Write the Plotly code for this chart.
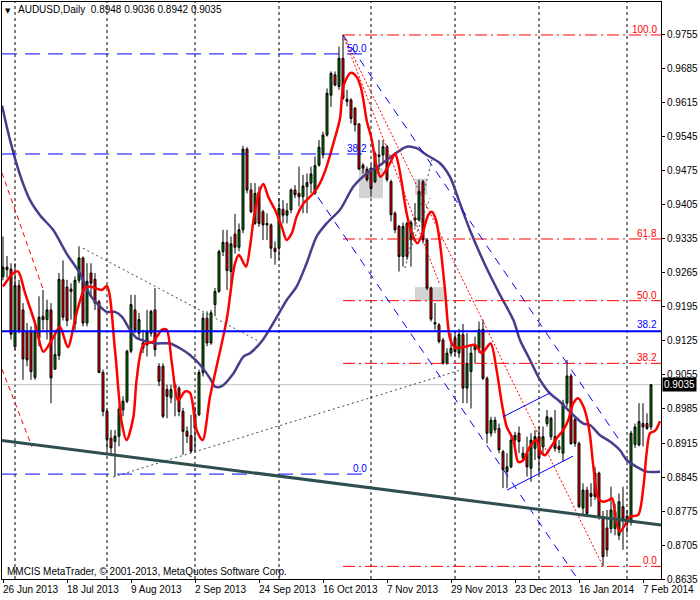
import plotly.graph_objects as go

FONT = "Liberation Sans, Arial, sans-serif"

# ---------------- data ----------------
date_labels = ["26 Jun 2013", "18 Jul 2013", "9 Aug 2013", "2 Sep 2013", "24 Sep 2013",
               "16 Oct 2013", "7 Nov 2013", "29 Nov 2013", "23 Dec 2013", "16 Jan 2014", "7 Feb 2014"]
date_label_bars = [0, 16, 32, 48, 64, 80, 96, 112, 128, 144, 160]
month_start_bars = [3, 26, 48, 69, 92, 113, 134, 156]

price_ticks = [0.8635, 0.8705, 0.8775, 0.8845, 0.8915, 0.8985, 0.9055, 0.9125, 0.9195,
               0.9265, 0.9335, 0.9405, 0.9475, 0.9545, 0.9615, 0.9685, 0.9755]
price_tick_text = ["0.8635", "0.8705", "0.8775", "0.8845", "0.8915", "0.8985", "0.9055", "0.9125",
                   "0.9195", "0.9265", "0.9335", "0.9405", "0.9475", "0.9545", "0.9615", "0.9685", "0.9755"]

opens = [0.9258, 0.9277, 0.9273, 0.9113, 0.9239, 0.9189, 0.9145, 0.9145, 0.9050, 0.9131,
         0.9176, 0.9169, 0.9189, 0.9067, 0.9095, 0.9251, 0.9236, 0.9232, 0.9160, 0.9250,
         0.9296, 0.9162, 0.9265, 0.9252, 0.9206, 0.9060, 0.8980, 0.8925, 0.8918, 0.8929,
         0.8983, 0.9001, 0.9104, 0.9189, 0.9141, 0.9121, 0.9117, 0.9141, 0.9189, 0.9073,
         0.9073, 0.9025, 0.9008, 0.9035, 0.9028, 0.8980, 0.8939, 0.8930, 0.8946, 0.8973,
         0.9060, 0.9172, 0.9121, 0.9200, 0.9227, 0.9309, 0.9328, 0.9268, 0.9345, 0.9318,
         0.9354, 0.9520, 0.9436, 0.9367, 0.9432, 0.9391, 0.9367, 0.9364, 0.9316, 0.9316,
         0.9396, 0.9384, 0.9395, 0.9436, 0.9429, 0.9422, 0.9443, 0.9450, 0.9429, 0.9487,
         0.9508, 0.9549, 0.9631, 0.9673, 0.9649, 0.9707, 0.9623, 0.9621, 0.9604, 0.9572,
         0.9487, 0.9478, 0.9481, 0.9453, 0.9508, 0.9508, 0.9525, 0.9453, 0.9388, 0.9361,
         0.9299, 0.9367, 0.9333, 0.9374, 0.9374, 0.9453, 0.9333, 0.9234, 0.9163, 0.9158,
         0.9127, 0.9079, 0.9100, 0.9131, 0.9100, 0.9138, 0.9028, 0.9062, 0.9107, 0.9110,
         0.9149, 0.9048, 0.8935, 0.8942, 0.8945, 0.8897, 0.8856, 0.8866, 0.8921, 0.8935,
         0.8884, 0.8894, 0.8863, 0.8904, 0.8928, 0.8907, 0.8955, 0.8928, 0.8928, 0.8908,
         0.8894, 0.8997, 0.9053, 0.8963, 0.8914, 0.8781, 0.8818, 0.8811, 0.8853, 0.8853,
         0.8763, 0.8740, 0.8739, 0.8739, 0.8725, 0.8784, 0.8750, 0.8752, 0.8912, 0.8911,
         0.8955, 0.8955, 0.8948]

highs = [0.9340, 0.9300, 0.9285, 0.9285, 0.9251, 0.9203, 0.9162, 0.9155, 0.9162, 0.9217,
         0.9230, 0.9210, 0.9203, 0.9148, 0.9265, 0.9291, 0.9251, 0.9244, 0.9258, 0.9320,
         0.9299, 0.9285, 0.9285, 0.9265, 0.9210, 0.9066, 0.8984, 0.8942, 0.8942, 0.8990,
         0.9011, 0.9107, 0.9220, 0.9220, 0.9183, 0.9148, 0.9189, 0.9189, 0.9234, 0.9079,
         0.9079, 0.9035, 0.9035, 0.9038, 0.9032, 0.8987, 0.8949, 0.8973, 0.8990, 0.9066,
         0.9183, 0.9186, 0.9189, 0.9234, 0.9313, 0.9354, 0.9354, 0.9340, 0.9387, 0.9367,
         0.9527, 0.9524, 0.9450, 0.9450, 0.9443, 0.9395, 0.9388, 0.9367, 0.9330, 0.9419,
         0.9415, 0.9409, 0.9439, 0.9446, 0.9484, 0.9467, 0.9470, 0.9484, 0.9505, 0.9539,
         0.9556, 0.9645, 0.9680, 0.9680, 0.9731, 0.9755, 0.9642, 0.9625, 0.9607, 0.9573,
         0.9491, 0.9484, 0.9488, 0.9515, 0.9539, 0.9539, 0.9529, 0.9457, 0.9392, 0.9364,
         0.9369, 0.9371, 0.9374, 0.9409, 0.9457, 0.9457, 0.9337, 0.9237, 0.9203, 0.9162,
         0.9131, 0.9110, 0.9141, 0.9145, 0.9150, 0.9160, 0.9141, 0.9117, 0.9134, 0.9165,
         0.9168, 0.9052, 0.8969, 0.8969, 0.8955, 0.8901, 0.8894, 0.8928, 0.8938, 0.8949,
         0.8907, 0.8928, 0.8935, 0.8942, 0.8949, 0.8949, 0.8983, 0.8969, 0.8983, 0.8921,
         0.9004, 0.9086, 0.9058, 0.8969, 0.8918, 0.8832, 0.8825, 0.8832, 0.8866, 0.8856,
         0.8775, 0.8777, 0.8825, 0.8790, 0.8811, 0.8825, 0.8777, 0.8940, 0.8955, 0.8997,
         0.8997, 0.8976, 0.9036]

lows = [0.9250, 0.9255, 0.9128, 0.9107, 0.9141, 0.9045, 0.9073, 0.9045, 0.9045, 0.9114,
        0.9148, 0.9128, 0.8997, 0.9066, 0.9086, 0.9167, 0.9155, 0.9169, 0.9148, 0.9244,
        0.9155, 0.9155, 0.9217, 0.9189, 0.9059, 0.8970, 0.8901, 0.8888, 0.8846, 0.8908,
        0.8970, 0.8997, 0.9100, 0.9141, 0.9128, 0.9100, 0.9093, 0.9134, 0.9093, 0.9032,
        0.8966, 0.8966, 0.8997, 0.8970, 0.8970, 0.8891, 0.8915, 0.8894, 0.8898, 0.8970,
        0.9052, 0.9114, 0.9117, 0.9176, 0.9224, 0.9300, 0.9230, 0.9240, 0.9305, 0.9310,
        0.9347, 0.9429, 0.9388, 0.9364, 0.9360, 0.9333, 0.9333, 0.9295, 0.9282, 0.9292,
        0.9367, 0.9367, 0.9388, 0.9419, 0.9402, 0.9388, 0.9388, 0.9429, 0.9426, 0.9484,
        0.9501, 0.9546, 0.9607, 0.9649, 0.9642, 0.9621, 0.9608, 0.9573, 0.9556, 0.9477,
        0.9470, 0.9453, 0.9422, 0.9450, 0.9477, 0.9491, 0.9453, 0.9371, 0.9347, 0.9268,
        0.9278, 0.9292, 0.9278, 0.9361, 0.9371, 0.9326, 0.9230, 0.9165, 0.9148, 0.9120,
        0.9076, 0.9076, 0.9093, 0.9095, 0.9090, 0.8997, 0.8997, 0.8986, 0.9079, 0.9100,
        0.9045, 0.8914, 0.8928, 0.8935, 0.8894, 0.8822, 0.8822, 0.8863, 0.8907, 0.8894,
        0.8880, 0.8846, 0.8835, 0.8880, 0.8853, 0.8894, 0.8949, 0.8921, 0.8897, 0.8894,
        0.8877, 0.8990, 0.8911, 0.8907, 0.8781, 0.8767, 0.8767, 0.8784, 0.8798, 0.8757,
        0.8661, 0.8681, 0.8729, 0.8725, 0.8715, 0.8695, 0.8729, 0.8745, 0.8905, 0.8908,
        0.8908, 0.8942, 0.8942]

closes = [0.9277, 0.9272, 0.9139, 0.9239, 0.9148, 0.9088, 0.9086, 0.9062, 0.9145, 0.9174,
          0.9169, 0.9189, 0.9049, 0.9097, 0.9252, 0.9174, 0.9167, 0.9227, 0.9250, 0.9296,
          0.9162, 0.9248, 0.9244, 0.9203, 0.9060, 0.8980, 0.8922, 0.8905, 0.8929, 0.8985,
          0.9001, 0.9104, 0.9200, 0.9148, 0.9169, 0.9110, 0.9145, 0.9186, 0.9107, 0.9042,
          0.8970, 0.9011, 0.9025, 0.9028, 0.8980, 0.8939, 0.8929, 0.8898, 0.8973, 0.9060,
          0.9172, 0.9121, 0.9183, 0.9227, 0.9309, 0.9328, 0.9270, 0.9325, 0.9318, 0.9354,
          0.9520, 0.9436, 0.9391, 0.9429, 0.9367, 0.9364, 0.9364, 0.9316, 0.9309, 0.9398,
          0.9384, 0.9393, 0.9436, 0.9426, 0.9422, 0.9444, 0.9451, 0.9469, 0.9486, 0.9524,
          0.9549, 0.9635, 0.9676, 0.9652, 0.9707, 0.9625, 0.9618, 0.9583, 0.9570, 0.9479,
          0.9481, 0.9457, 0.9439, 0.9511, 0.9505, 0.9525, 0.9457, 0.9385, 0.9354, 0.9299,
          0.9361, 0.9299, 0.9369, 0.9378, 0.9433, 0.9333, 0.9234, 0.9170, 0.9160, 0.9124,
          0.9079, 0.9100, 0.9110, 0.9103, 0.9138, 0.9028, 0.9079, 0.9100, 0.9117, 0.9148,
          0.9048, 0.8935, 0.8962, 0.8962, 0.8901, 0.8860, 0.8866, 0.8921, 0.8931, 0.8918,
          0.8894, 0.8866, 0.8921, 0.8928, 0.8884, 0.8928, 0.8969, 0.8966, 0.8904, 0.8902,
          0.8997, 0.9053, 0.8914, 0.8914, 0.8784, 0.8818, 0.8770, 0.8805, 0.8805, 0.8763,
          0.8681, 0.8695, 0.8777, 0.8774, 0.8794, 0.8757, 0.8764, 0.8935, 0.8948, 0.8959,
          0.8948, 0.8945, 0.9035]

bars = list(range(len(closes)))

# red indicator line
red_x = [0, 2.6, 3.8, 5.5, 8, 10.1, 12.2, 14.25, 16.2, 18.4,
         20.5, 21.75, 24.7, 26, 28, 29.7, 30.9, 32.6, 33.4, 35.1,
         37.6, 39.7, 40.9, 42.2, 43.8, 45.5, 46.75, 48.4, 49.9, 51.75,
         55.9, 58, 59, 60.75, 61.75, 62.75, 64.25, 65.1, 66.3, 68,
         69.7, 70.9, 72.2, 73.4, 75.1, 77.6, 79.25, 80.9, 82.6, 84.25,
         85.1, 86.9, 88.4, 89.4, 90.1, 90.9, 92.2, 93.4, 94.4, 96.75,
         98, 98.8, 99.7, 100.9, 102.2, 103.6, 104.9, 106.3, 107.2, 108.25,
         109.25, 110.5, 111.75, 113, 115.5, 118, 119.7, 121.9, 123.4, 124.7,
         125.9, 127.6, 128.8, 130.1, 131.75, 133.4, 134.4, 135.5, 136.75, 138.4,
         140.1, 141.3, 142.6, 143.8, 145.1, 145.9, 146.75, 147.6, 148.8, 150.1,
         151.3, 152.3, 153.2, 154.25, 155.25, 156.75, 158.8, 160.1, 160.9, 161.75,
         163, 164.25]
red_y = [0.9237, 0.9265, 0.9268, 0.9224, 0.9162, 0.9103, 0.9127, 0.9154, 0.9112, 0.9183,
         0.9234, 0.9237, 0.9230, 0.9238, 0.9106, 0.8956, 0.8921, 0.8969, 0.9045, 0.9117,
         0.9124, 0.9148, 0.9148, 0.9080, 0.9003, 0.9021, 0.9018, 0.8942, 0.8921, 0.9010,
         0.9168, 0.9285, 0.9302, 0.9278, 0.9319, 0.9381, 0.9436, 0.9448, 0.9422, 0.9395,
         0.9360, 0.9333, 0.9347, 0.9381, 0.9408, 0.9429, 0.9450, 0.9484, 0.9532, 0.9583,
         0.9650, 0.9677, 0.9669, 0.9649, 0.9621, 0.9580, 0.9539, 0.9484, 0.9463, 0.9491,
         0.9511, 0.9491, 0.9450, 0.9388, 0.9347, 0.9326, 0.9347, 0.9384, 0.9391, 0.9374,
         0.9326, 0.9230, 0.9130, 0.9112, 0.9113, 0.9117, 0.9100, 0.9120, 0.9065, 0.8997,
         0.8949, 0.8921, 0.8876, 0.8880, 0.8908, 0.8921, 0.8897, 0.8890, 0.8904, 0.8925,
         0.8942, 0.8962, 0.8997, 0.9007, 0.8990, 0.8969, 0.8931, 0.8866, 0.8801, 0.8794,
         0.8797, 0.8801, 0.8756, 0.8732, 0.8743, 0.8763, 0.8767, 0.8825, 0.8894, 0.8935,
         0.8940, 0.8960]

# slow purple line
pur_x = [-0.25, 1.75, 4.25, 6.75, 9.25, 12.6, 15.9, 19.25, 21.75, 24.25,
         25.9, 28, 29.7, 31.75, 33.4, 35.9, 38.4, 41.75, 44.25, 46.75,
         49.25, 51.75, 53, 54.7, 57.6, 60.1, 61.75, 64.75, 68, 70.9,
         73.4, 75.9, 78.4, 80.9, 84.25, 87.6, 90.9, 94.25, 97.6, 100.9,
         103.4, 105.9, 109.25, 111.75, 114.25, 116.75, 120.5, 124.25, 127.6, 129.25,
         131.75, 134.25, 136.75, 139.25, 141.75, 143.4, 145.1, 146.75, 149.25, 151.75,
         154.25, 155.9, 158.4, 160.9, 164.25]
pur_y = [0.9610, 0.9539, 0.9467, 0.9415, 0.9384, 0.9353, 0.9305, 0.9264, 0.9220, 0.9196,
         0.9185, 0.9185, 0.9175, 0.9148, 0.9131, 0.9124, 0.9120, 0.9120, 0.9110, 0.9096,
         0.9076, 0.9048, 0.9031, 0.9032, 0.9058, 0.9093, 0.9100, 0.9125, 0.9168, 0.9209,
         0.9237, 0.9285, 0.9340, 0.9367, 0.9395, 0.9443, 0.9470, 0.9487, 0.9508, 0.9525,
         0.9522, 0.9508, 0.9491, 0.9463, 0.9408, 0.9353, 0.9282, 0.9220, 0.9168, 0.9127,
         0.9086, 0.9045, 0.9017, 0.9000, 0.8979, 0.8966, 0.8955, 0.8952, 0.8931, 0.8918,
         0.8900, 0.8880, 0.8866, 0.8856, 0.8856]

# red Fibonacci retracement (peak bar 85 -> low bar 150)
fib_red_levels = [0.9755, 0.9335, 0.9208, 0.9079, 0.8661]
fib_red_labels = ["100.0", "61.8", "50.0", "38.2", "0.0"]
fib_red_start_bar = 85
# blue dashed Fibonacci levels on the left part
fib_blue_levels = [0.9716, 0.9510, 0.8851]
fib_blue_labels = ["50.0", "38.2", "0.0"]
fib_blue_end_bar = 91.75
# solid blue level
blue_level = 0.9145
blue_level_label = "38.2"
last_price = 0.9035
last_price_text = "0.9035"

X_MIN, X_MAX = -0.25, 164.5
Y_MIN, Y_MAX = 0.8635, 0.98229

# trend objects: (x0, y0, x1, y1, color, width, dash)
trend_objects = [
    (85, 0.9755, 150, 0.8661, "#FF0000", 1, "2px,2px"),          # fibo diagonal
    (85, 0.9755, 109.25, 0.9240, "#FF0000", 1, "2px,2px"),
    (85, 0.9755, 154.75, 0.8913, "#0000FF", 1, "8px,7px"),       # channel upper
    (78.75, 0.9421, 143.5, 0.8637, "#0000FF", 1, "8px,7px"),     # channel lower
    (125, 0.8969, 136.75, 0.9018, "#0000FF", 1, "solid"),        # small channel
    (126, 0.8818, 142.5, 0.8888, "#0000FF", 1, "solid"),
    (20, 0.9316, 64.75, 0.9121, "#2F4F4F", 1, "2px,3px"),
    (27.5, 0.8845, 114.25, 0.9065, "#2F4F4F", 1, "2px,3px"),
    (100.5, 0.9275, 107.25, 0.9498, "#2F4F4F", 1, "2px,3px"),
    (101.75, 0.9312, 106.75, 0.9419, "#2F4F4F", 1, "2px,3px"),
    (-0.25, 0.9471, 10.25, 0.9226, "#FF0000", 1, "5px,4px"),
    (-0.25, 0.9067, 7.25, 0.8907, "#FF0000", 1, "5px,4px"),
    (-0.25, 0.8920, 164.5, 0.8746, "#2F4F4F", 3, "solid"),       # long support
]
# shaded boxes: (x0, y0, x1, y1)
boxes = [(89, 0.9481, 95, 0.9419), (103, 0.9459, 106, 0.9426), (103, 0.9236, 110.75, 0.9207)]

# ---------------- figure ----------------
fig = go.Figure()

fig.add_trace(go.Candlestick(
    x=bars, open=opens, high=highs, low=lows, close=closes,
    increasing=dict(line=dict(color="black", width=1), fillcolor="#008000"),
    decreasing=dict(line=dict(color="black", width=1), fillcolor="#FF0000"),
    whiskerwidth=0, showlegend=False, hoverinfo="skip"))

fig.add_trace(go.Scatter(x=pur_x, y=pur_y, mode="lines",
                         line=dict(color="#483D8B", width=2.5, shape="spline", smoothing=0.8),
                         showlegend=False, hoverinfo="skip"))
fig.add_trace(go.Scatter(x=red_x, y=red_y, mode="lines",
                         line=dict(color="#FF0000", width=2.5, shape="spline", smoothing=0.8),
                         showlegend=False, hoverinfo="skip"))

shapes = []
for b in month_start_bars:
    shapes.append(dict(type="line", xref="x", yref="paper", x0=b, x1=b, y0=0, y1=1,
                       line=dict(color="black", width=1, dash="3px,3px"), layer="below"))
for (x0, y0, x1, y1) in boxes:
    shapes.append(dict(type="rect", xref="x", yref="y", x0=x0, x1=x1, y0=y0, y1=y1,
                       fillcolor="#D3D3D3", line=dict(width=0), layer="below"))
shapes.append(dict(type="line", xref="x", yref="y", x0=X_MIN, x1=X_MAX, y0=last_price, y1=last_price,
                   line=dict(color="#C0C0C0", width=1), layer="below"))
for lv in fib_red_levels:
    shapes.append(dict(type="line", xref="x", yref="y", x0=fib_red_start_bar, x1=X_MAX, y0=lv, y1=lv,
                       line=dict(color="#FF0000", width=1, dash="12px,4px,2px,4px")))
for lv in fib_blue_levels:
    shapes.append(dict(type="line", xref="x", yref="y", x0=X_MIN, x1=fib_blue_end_bar, y0=lv, y1=lv,
                       line=dict(color="#0000FF", width=1, dash="15px,8px")))
shapes.append(dict(type="line", xref="x", yref="y", x0=X_MIN, x1=X_MAX, y0=blue_level, y1=blue_level,
                   line=dict(color="#0000FF", width=2)))
for (x0, y0, x1, y1, c, w, d) in trend_objects:
    shapes.append(dict(type="line", xref="x", yref="y", x0=x0, y0=y0, x1=x1, y1=y1,
                       line=dict(color=c, width=w, dash=d)))

ann = []
for lbl, b in zip(date_labels, date_label_bars):
    ann.append(dict(x=b, y=0, xref="x", yref="paper", text=lbl, showarrow=False,
                    xanchor="left", yanchor="top", xshift=-2, yshift=-3,
                    font=dict(family=FONT, size=10, color="black")))
for lbl, lv in zip(fib_red_labels, fib_red_levels):
    ann.append(dict(x=1, y=lv, xref="paper", yref="y", text=lbl, showarrow=False,
                    xanchor="right", yanchor="bottom", xshift=-2, yshift=-2,
                    font=dict(family=FONT, size=10, color="#FF0000")))
for lbl, lv in zip(fib_blue_labels, fib_blue_levels):
    ann.append(dict(x=fib_blue_end_bar, y=lv, xref="x", yref="y", text=lbl, showarrow=False,
                    xanchor="right", yanchor="bottom", xshift=-1, yshift=-2,
                    font=dict(family=FONT, size=10, color="#0000FF")))
ann.append(dict(x=1, y=blue_level, xref="paper", yref="y", text=blue_level_label, showarrow=False,
                xanchor="right", yanchor="bottom", xshift=-2, yshift=-1,
                font=dict(family=FONT, size=10, color="#0000FF")))
ann.append(dict(x=1, y=last_price, xref="paper", yref="y", text=last_price_text, showarrow=False,
                xanchor="left", yanchor="middle", xshift=1, bgcolor="black", borderpad=1,
                font=dict(family=FONT, size=10, color="white")))
ann.append(dict(x=0, y=1, xref="paper", yref="paper", text="▼", showarrow=False,
                xanchor="left", yanchor="top", xshift=1, yshift=-3,
                font=dict(family="DejaVu Sans", size=7, color="black")))
ann.append(dict(x=0, y=1, xref="paper", yref="paper",
                text="AUDUSD,Daily\u00a0\u00a00.8948 0.9036 0.8942 0.9035", showarrow=False,
                xanchor="left", yanchor="top", xshift=14, yshift=0,
                font=dict(family=FONT, size=10, color="black")))
ann.append(dict(x=0, y=0, xref="paper", yref="paper",
                text="MMCIS MetaTrader, © 2001-2013, MetaQuotes Software Corp.", showarrow=False,
                xanchor="left", yanchor="bottom", xshift=3, yshift=0,
                font=dict(family=FONT, size=10, color="black")))

fig.update_layout(
    width=700, height=600,
    margin=dict(l=2, r=39, t=2, b=21),
    paper_bgcolor="white", plot_bgcolor="white",
    showlegend=False, hovermode=False,
    shapes=shapes, annotations=ann,
    xaxis=dict(range=[X_MIN, X_MAX], showgrid=False, zeroline=False, rangeslider=dict(visible=False),
               tickmode="array", tickvals=date_label_bars, showticklabels=False,
               ticks="outside", ticklen=3, tickcolor="black",
               showline=True, linecolor="black", linewidth=1, mirror=True),
    yaxis=dict(range=[Y_MIN, Y_MAX], side="right", showgrid=False, zeroline=False,
               tickmode="array", tickvals=price_ticks, ticktext=price_tick_text,
               ticks="outside", ticklen=3, tickcolor="black",
               tickfont=dict(family=FONT, size=10, color="black"),
               showline=True, linecolor="black", linewidth=1, mirror=True),
)

fig.write_html("out.html", config={"displayModeBar": False},
               post_script="document.body.style.margin='0px';document.body.style.padding='0px';")
